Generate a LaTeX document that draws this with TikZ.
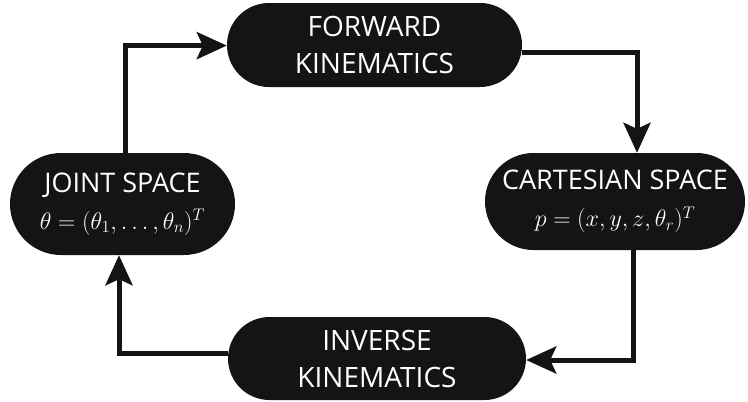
\documentclass[tikz,border=0pt]{standalone}
\usepackage{fix-cm}
\usepackage{fontspec}
\setmainfont{Open Sans}
\usetikzlibrary{arrows.meta,calc}
\definecolor{boxblack}{HTML}{141414}
\newcommand{\mathline}[1]{{\fontsize{24}{36}\selectfont\(#1\)}}
\tikzset{
  pill/.style={fill=boxblack, text=white, align=center, inner sep=0pt,
    font=\fontsize{28}{37}\selectfont},
  mathpill/.style={pill, font=\fontsize{27}{37}\selectfont},
  flow/.style={draw=boxblack, line width=5pt, line join=miter,
    -{Stealth[length=30pt,width=27pt,inset=6pt]}}
}
\begin{document}
\begin{tikzpicture}[x=1pt,y=-1pt]
\useasboundingbox (0,0) rectangle (748,402);
\node[pill, minimum width=295pt, minimum height=84pt, rounded corners=42pt] (fk) at (374.5,45) {FORWARD\\KINEMATICS};
\node[pill, minimum width=298pt, minimum height=83pt, rounded corners=41.5pt] (ik) at (377,358.5) {INVERSE\\KINEMATICS};
\node[mathpill, minimum width=225pt, minimum height=102pt, rounded corners=51pt] (js) at (122.5,204) {JOINT SPACE\\\mathline{\theta=(\theta_1,\ldots,\theta_n)^T}};
\node[mathpill, minimum width=260pt, minimum height=97pt, rounded corners=48.5pt] (cs) at (615,201.5) {CARTESIAN SPACE\\\mathline{p=(x,y,z,\theta_r)^T}};
\coordinate (c1) at (125,45.6);
\coordinate (c2) at (637,52);
\coordinate (c3) at (633,360);
\coordinate (c4) at (119,353);
\draw[flow] (js.north -| c1) -- (c1) -- (c1 -| fk.west);
\draw[flow] (c2 -| fk.east) -- (c2) -- (c2 |- cs.north);
\draw[flow] (cs.south -| c3) -- (c3) -- (c3 -| ik.east);
\draw[flow] (c4 -| ik.west) -- (c4) -- (c4 |- js.south);
\end{tikzpicture}
\end{document}
